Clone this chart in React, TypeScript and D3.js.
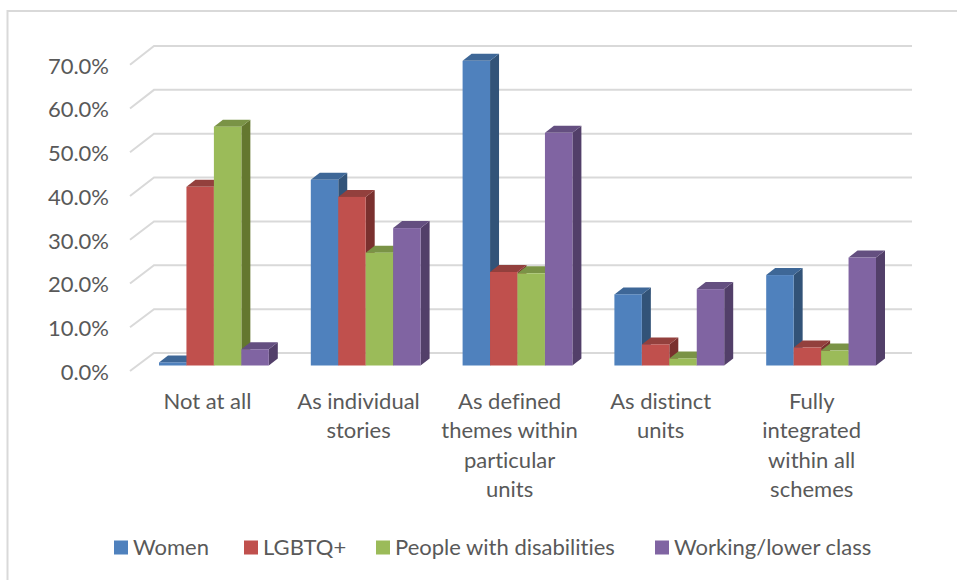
import React from "react";
import * as d3 from "d3";

const categories = [
  ["Not at all"],
  ["As individual", "stories"],
  ["As defined", "themes within", "particular", "units"],
  ["As distinct", "units"],
  ["Fully", "integrated", "within all", "schemes"],
];
const seriesNames = ["Women", "LGBTQ+", "People with disabilities", "Working/lower class"];
const women = [0.7, 42.3, 69.4, 16.2, 20.6];
const lgbtq = [40.7, 38.4, 21.3, 4.8, 4.1];
const disabilities = [54.4, 25.7, 21.0, 1.6, 3.4];
const working = [3.7, 31.3, 53.0, 17.4, 24.6];
const ticks = [0, 10, 20, 30, 40, 50, 60, 70];
const frontColors = ["#4F81BD", "#C0504D", "#9BBB59", "#8064A2"];
const topColors = ["#3E6797", "#93403D", "#7A9346", "#644F80"];
const sideColors = ["#325378", "#7A302E", "#64772F", "#523F69"];
const font = "Lato, sans-serif";
const textColor = "#595959";

export default function App() {
  const series = [women, lgbtq, disabilities, working];
  const yBar = d3.scaleLinear().domain([0, 70]).range([365.5, 58.2]);
  const yFront = d3.scaleLinear().domain([0, 70]).range([371, 64.7]);
  const yBack = d3.scaleLinear().domain([0, 70]).range([353, 46]);
  const xGroup = d3.scaleBand<number>().domain(d3.range(5)).range([130, 889]);
  const xBar = d3.scaleBand<number>().domain(d3.range(4)).range([29, 138.8]);
  const xLabel = d3.scalePoint<number>().domain(d3.range(5)).range([207.5, 811.7]);
  const dx = 9;
  const dy = 7;
  const w = xBar.bandwidth();
  const legendX = [114, 244, 376, 655];
  return (
    <svg
      width={957}
      height={580}
      style={{ position: "absolute", left: 0, top: 0, display: "block", background: "#fff", fontVariantLigatures: "none" }}
    >
      <path d="M7.5,580V11H957" fill="none" stroke="#d9d9d9" strokeWidth={2} />
      {ticks.map((t) => (
        <g key={t}>
          <path
            d={`M130,${yFront(t)}L154,${yBack(t)}H912`}
            fill="none"
            stroke="#d9d9d9"
            strokeWidth={2}
          />
          <text x={109} y={yFront(t) + 9} textAnchor="end" fontFamily={font} fontSize={22} fill={textColor}>
            {t.toFixed(1)}%
          </text>
        </g>
      ))}
      {categories.map((_, c) => (
        <g key={c}>
          {series.map((vals, s) => {
            const x0 = xGroup(c)! + xBar(s)!;
            const y0 = yBar(vals[c]);
            const yb = yBar(0);
            return (
              <g key={s}>
                <path
                  d={`M${x0 + w},${y0}l${dx},${-dy}V${yb - dy}l${-dx},${dy}Z`}
                  fill={sideColors[s]}
                />
                <path
                  d={`M${x0},${y0}l${dx},${-dy}h${w}l${-dx},${dy}Z`}
                  fill={topColors[s]}
                />
                <rect x={x0} y={y0} width={w} height={yb - y0} fill={frontColors[s]} />
              </g>
            );
          })}
        </g>
      ))}
      {categories.map((lines, c) => (
        <text key={c} textAnchor="middle" fontFamily={font} fontSize={22} fill={textColor}>
          {lines.map((l, i) => (
            <tspan key={i} x={xLabel(c)!} y={409 + i * 29.3}>
              {l}
            </tspan>
          ))}
        </text>
      ))}
      {seriesNames.map((n, s) => (
        <g key={n}>
          <rect x={legendX[s]} y={540.5} width={14} height={14} fill={frontColors[s]} />
          <text x={legendX[s] + 19} y={555} fontFamily={font} fontSize={22} fill={textColor}>
            {n}
          </text>
        </g>
      ))}
    </svg>
  );
}
